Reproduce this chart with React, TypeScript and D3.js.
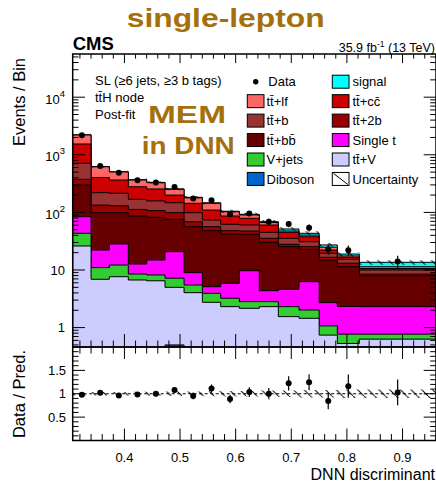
import React from "react";
import * as d3 from "d3";

// DNN discriminant bin edges (last bin is merged)
const binEdges = [0.307, 0.34, 0.3729, 0.407, 0.4401, 0.473, 0.5072, 0.5401, 0.5731, 0.6066, 0.6425, 0.6767, 0.7139, 0.7501, 0.7828, 0.8223, 0.9602];

// Post-fit yields per bin, listed in stacking order (bottom -> top)
const diboson = [0, 0, 0, 0, 0, 0.5, 0, 0, 0, 0, 0, 0, 0, 0, 0, 0];
const ttV = [26.1, 6.9, 7.65, 6.7, 6.5, 4.5, 4.04, 2.75, 2.31, 2.16, 2.31, 1.55, 1.45, 0.74, 0.53, 0.63];
const vJets = [17.3, 4.1, 4.55, 1.8, 1.7, 2.2, 1.45, 1.19, 0.92, 0.66, 0.51, 0.76, 0.57, 0.33, 0.24, 0.14];
const singleT = [40.8, 11.2, 16.1, 4.2, 6.7, 13.6, 3.49, 1.19, 2.65, 6.9, 1.55, 2.31, 4.25, 1.64, 1.55, 1.54];
const ttbb = [215, 76.6, 70.5, 73.9, 67.3, 55.1, 47.5, 43.0, 36.3, 32.0, 25.9, 20.8, 16.6, 12.2, 9.1, 5.65];
const tt2b = [76, 35, 32, 26, 25, 23, 12.5, 8.4, 5.9, 5.8, 5.2, 2.5, 2.5, 1.7, 1.7, 0.54];
const ttb = [337, 86, 84, 56, 51, 48, 29.8, 17.3, 14.0, 12.9, 9.6, 7.6, 5.6, 2.9, 2.2, 1.5];
const ttcc = [828, 184, 150, 110, 97, 53, 45, 36, 24.5, 18.6, 15.3, 9.6, 6.8, 2.7, 1.3, 0.6];
const ttlf = [667, 216, 138, 86, 73, 52, 36, 34, 16.2, 11.2, 6.4, 2.4, 2.7, 2.6, 0.9, 0.8];
const signal = [20, 8, 5, 5, 4, 4, 3, 3, 2, 2.5, 2.2, 4.0, 2.9, 2.4, 1.4, 2.2];

// Observed events
const dataCounts = [2182, 641, 488, 363, 332, 276, 174, 163, 93, 96, 69, 63, 54, 23, 22, 14];

// Relative total uncertainty of the prediction
const relUnc = [0.04, 0.04, 0.04, 0.045, 0.045, 0.05, 0.05, 0.055, 0.06, 0.06, 0.07, 0.07, 0.08, 0.08, 0.09, 0.09];

const processes = [
  { key: "Diboson", values: diboson, color: "#0066cc" },
  { key: "tt+V", values: ttV, color: "#ccccff" },
  { key: "V+jets", values: vJets, color: "#33cc33" },
  { key: "Single t", values: singleT, color: "#ff00ff" },
  { key: "tt+bb", values: ttbb, color: "#660000" },
  { key: "tt+2b", values: tt2b, color: "#990000" },
  { key: "tt+b", values: ttb, color: "#993333" },
  { key: "tt+cc", values: ttcc, color: "#cc0000" },
  { key: "tt+lf", values: ttlf, color: "#ff6666" },
  { key: "signal", values: signal, color: "#00ffff" },
];

const TT = "t\u0074\u0304";
const legendLeft = [
  { label: "Data", kind: "data" },
  { label: `${TT}+lf`, color: "#ff6666" },
  { label: `${TT}+b`, color: "#993333" },
  { label: `${TT}+b\u0062\u0304`, color: "#660000" },
  { label: "V+jets", color: "#33cc33" },
  { label: "Diboson", color: "#0066cc" },
];
const legendRight = [
  { label: "signal", color: "#00ffff" },
  { label: `${TT}+c\u0063\u0304`, color: "#cc0000" },
  { label: `${TT}+2b`, color: "#990000" },
  { label: "Single t", color: "#ff00ff" },
  { label: `${TT}+V`, color: "#ccccff" },
  { label: "Uncertainty", kind: "unc" },
];

const W = 436;
const H = 481;
const X0 = 72.7;
const X1 = 436;
const MAIN_TOP = 54;
const MAIN_BOT = 347;
const RAT_TOP = 347;
const RAT_BOT = 440.5;
const FONT = "'Liberation Sans', Arial, Helvetica, sans-serif";
const BROWN = "#a3700c";

export default function App() {
  const nb = binEdges.length - 1;
  const x = d3.scaleLinear().domain([binEdges[0], binEdges[nb]]).range([X0, X1]);
  const yMin = Math.pow(10, -0.337);
  const yMax = Math.pow(10, 4.75);
  const y = d3.scaleLog().domain([yMin, yMax]).range([MAIN_BOT, MAIN_TOP]);
  const yr = d3.scaleLinear().domain([0, 2]).range([RAT_BOT, RAT_TOP]);

  // cumulative stack tops
  const cum: number[][] = [];
  processes.forEach((p, k) => {
    cum.push(p.values.map((v, i) => v + (k > 0 ? cum[k - 1][i] : 0)));
  });
  const total = cum[cum.length - 1];

  const stepArea = (top: number[], bottom: number[] | null, ys: (v: number) => number, floor: number) => {
    const pts = binEdges.map((e, i) => {
      const j = Math.min(i, nb - 1);
      return { x: e, t: top[j], b: bottom ? bottom[j] : null };
    });
    return d3
      .area<any>()
      .x((d) => x(d.x))
      .y0((d) => (d.b === null ? floor : ys(d.b)))
      .y1((d) => ys(d.t))
      .curve(d3.curveStepAfter)(pts) as string;
  };

  const logY = (v: number) => y(Math.max(v, yMin * 0.3));

  // layers: draw the largest cumulative first
  const layers = processes
    .map((p, k) => ({ ...p, path: stepArea(cum[k], null, logY, MAIN_BOT + 5) }))
    .reverse();

  const uncUp = total.map((t, i) => t * (1 + relUnc[i]));
  const uncDn = total.map((t, i) => t * (1 - relUnc[i]));
  const mainBand = stepArea(uncUp, uncDn, logY, MAIN_BOT);
  const ratioBand = stepArea(
    relUnc.map((u) => 1 + u),
    relUnc.map((u) => 1 - u),
    yr,
    RAT_BOT
  );

  const centers = d3.range(nb).map((i) => (binEdges[i] + binEdges[i + 1]) / 2);

  // x ticks: minor every 0.02, major every 0.1
  const xTicks = d3.range(16, 49).map((k) => ({ v: k / 50, major: k % 5 === 0 })).filter((t) => t.v > binEdges[0] && t.v < binEdges[nb]);
  // log ticks
  const logTicks: { v: number; major: boolean }[] = [];
  for (let d = -1; d <= 4; d++) {
    for (let m = 1; m <= 9; m++) {
      const v = m * Math.pow(10, d);
      if (v >= yMin && v <= yMax) logTicks.push({ v, major: m === 1 });
    }
  }
  const ratioTicks = d3.range(1, 20).map((k) => ({ v: k / 10, major: k % 5 === 0 }));

  const line = (x1: number, y1: number, x2: number, y2: number, key: string, w = 1) => (
    <line key={key} x1={x1} y1={y1} x2={x2} y2={y2} stroke="#000" strokeWidth={w} />
  );

  const rowY = (i: number) => 81.7 + i * 19.45;

  return (
    <svg width={W} height={H} style={{ position: "absolute", left: 0, top: 0, background: "#fff" }} fontFamily={FONT}>
      <defs>
        <clipPath id="mainClip">
          <rect x={X0} y={MAIN_TOP} width={X1 - X0} height={MAIN_BOT - MAIN_TOP} />
        </clipPath>
        <clipPath id="ratClip">
          <rect x={X0} y={RAT_TOP} width={X1 - X0} height={RAT_BOT - RAT_TOP} />
        </clipPath>
        <pattern id="hatch" patternUnits="userSpaceOnUse" width={10.7} height={10.7}>
          <path d="M0,0 L10.7,10.7 M-1,-1 L1,1 M9.7,9.7 L11.7,11.7" stroke="#000" strokeWidth={1} />
        </pattern>
      </defs>
      <rect x={0} y={0} width={W} height={H} fill="#fff" />

      {/* stacked backgrounds + signal */}
      <g clipPath="url(#mainClip)">
        {layers.map((l) => (
          <path key={l.key} d={l.path} fill={l.color} stroke="#000" strokeWidth={1} />
        ))}
        <path d={mainBand} fill="url(#hatch)" stroke="none" />
        {dataCounts.map((n, i) => {
          const e = Math.sqrt(n);
          return (
            <g key={"d" + i}>
              <line x1={x(centers[i])} x2={x(centers[i])} y1={logY(n + e)} y2={logY(Math.max(n - e, yMin * 0.3))} stroke="#000" strokeWidth={1.2} />
              <circle cx={x(centers[i])} cy={logY(n)} r={3} fill="#000" />
            </g>
          );
        })}
      </g>

      {/* main frame and ticks */}
      <rect x={X0} y={MAIN_TOP} width={X1 - X0} height={MAIN_BOT - MAIN_TOP} fill="none" stroke="#000" strokeWidth={1.5} />
      {xTicks.map((t, i) => {
        const L = t.major ? 13 : 6.5;
        return (
          <g key={"xt" + i}>
            {line(x(t.v), MAIN_BOT, x(t.v), MAIN_BOT - L, "a")}
            {line(x(t.v), MAIN_TOP, x(t.v), MAIN_TOP + L * 0.7, "b")}
          </g>
        );
      })}
      {logTicks.map((t, i) => {
        const L = t.major ? 12.3 : 5.8;
        return (
          <g key={"yt" + i}>
            {line(X0, y(t.v), X0 + L, y(t.v), "a")}
            {line(X1, y(t.v), X1 - L, y(t.v), "b")}
          </g>
        );
      })}
      {/* y tick labels */}
      {logTicks
        .filter((t) => t.major)
        .map((t, i) => {
          const exp = Math.round(Math.log10(t.v));
          const yy = y(t.v);
          if (exp <= 1) {
            return (
              <text key={"yl" + i} x={65} y={yy + 4.6} fontSize={13} textAnchor="end">
                {exp === 0 ? "1" : "10"}
              </text>
            );
          }
          return (
            <text key={"yl" + i} x={65} y={yy + 6.5} fontSize={13} textAnchor="end">
              10
              <tspan fontSize={9.5} dy={-7}>{exp}</tspan>
            </text>
          );
        })}

      {/* ratio panel */}
      <g clipPath="url(#ratClip)">
        <line x1={X0} x2={X1} y1={yr(1)} y2={yr(1)} stroke="#000" strokeWidth={1} strokeDasharray="3,2.5" />
        <path d={ratioBand} fill="url(#hatch)" stroke="none" />
        {dataCounts.map((n, i) => {
          const r = n / total[i];
          const e = Math.sqrt(n) / total[i];
          return (
            <g key={"r" + i}>
              <line x1={x(centers[i])} x2={x(centers[i])} y1={yr(r + e)} y2={yr(r - e)} stroke="#000" strokeWidth={1.2} />
              <circle cx={x(centers[i])} cy={yr(r)} r={3} fill="#000" />
            </g>
          );
        })}
      </g>
      <rect x={X0} y={RAT_TOP} width={X1 - X0} height={RAT_BOT - RAT_TOP} fill="none" stroke="#000" strokeWidth={1.5} />
      {xTicks.map((t, i) => {
        const L = t.major ? 12 : 6.5;
        return (
          <g key={"rxt" + i}>
            {line(x(t.v), RAT_BOT, x(t.v), RAT_BOT - L, "a")}
            {line(x(t.v), RAT_TOP, x(t.v), RAT_TOP + L, "b")}
          </g>
        );
      })}
      {ratioTicks.map((t, i) => {
        const L = t.major ? 12.3 : 5.8;
        return (
          <g key={"ryt" + i}>
            {line(X0, yr(t.v), X0 + L, yr(t.v), "a")}
            {line(X1, yr(t.v), X1 - L, yr(t.v), "b")}
          </g>
        );
      })}
      {[0.5, 1, 1.5].map((v) => (
        <text key={"rl" + v} x={66} y={yr(v) + 4.6} fontSize={13} textAnchor="end">
          {v === 1 ? "1" : String(v)}
        </text>
      ))}
      {xTicks
        .filter((t) => t.major)
        .map((t, i) => (
          <text key={"xl" + i} x={x(t.v)} y={461.5} fontSize={13} textAnchor="middle">
            {t.v.toFixed(1)}
          </text>
        ))}

      {/* axis titles */}
      <text x={435} y={479.5} fontSize={16} textAnchor="end">DNN discriminant</text>
      <text transform="translate(24.5,58) rotate(-90)" fontSize={16.5} textAnchor="end">Events / Bin</text>
      <text transform="translate(24.5,350) rotate(-90)" fontSize={16.5} textAnchor="end">Data / Pred.</text>

      {/* header */}
      <text x={72.7} y={50} fontSize={18.5} fontWeight="bold">CMS</text>
      <text x={435} y={51.5} fontSize={12.5} textAnchor="end">
        35.9 fb<tspan fontSize={8.5} dy={-5}>-1</tspan>
        <tspan dy={5}> (13 TeV)</tspan>
      </text>
      <text x={126.7} y={27} fontSize={26} fontWeight="bold" fill={BROWN} textLength={198} lengthAdjust="spacingAndGlyphs">single-lepton</text>

      {/* category description */}
      <text x={95} y={85} fontSize={13}>SL (≥6 jets, ≥3 b tags)</text>
      <text x={95} y={101.7} fontSize={13}>{`${TT}H node`}</text>
      <text x={95} y={119.3} fontSize={13}>Post-fit</text>
      <text x={148} y={123.3} fontSize={23.5} fontWeight="bold" fill={BROWN} textLength={78} lengthAdjust="spacingAndGlyphs">MEM</text>
      <text x={141.7} y={154.3} fontSize={24} fontWeight="bold" fill={BROWN} textLength={93} lengthAdjust="spacingAndGlyphs">in DNN</text>

      {/* legend */}
      {legendLeft.map((it, i) => (
        <g key={"ll" + i}>
          {it.kind === "data" ? (
            <circle cx={255.7} cy={rowY(i)} r={2.7} fill="#000" />
          ) : (
            <rect x={247.3} y={rowY(i) - 6.5} width={16.7} height={13} fill={it.color} stroke="#000" strokeWidth={1} />
          )}
          <text x={it.kind === "data" ? 268.3 : 266.5} y={rowY(i) + 4.7} fontSize={13}>{it.label}</text>
        </g>
      ))}
      {legendRight.map((it, i) => (
        <g key={"lr" + i}>
          {it.kind === "unc" ? (
            <g>
              <rect x={332.3} y={rowY(i) - 6.5} width={16.7} height={13} fill="#fff" stroke="#000" strokeWidth={1} />
              <line x1={333.5} y1={rowY(i) - 5.5} x2={347.8} y2={rowY(i) + 5.5} stroke="#000" strokeWidth={1} />
            </g>
          ) : (
            <rect x={332.3} y={rowY(i) - 6.5} width={16.7} height={13} fill={it.color} stroke="#000" strokeWidth={1} />
          )}
          <text x={352.5} y={rowY(i) + 4.7} fontSize={13}>{it.label}</text>
        </g>
      ))}
    </svg>
  );
}
